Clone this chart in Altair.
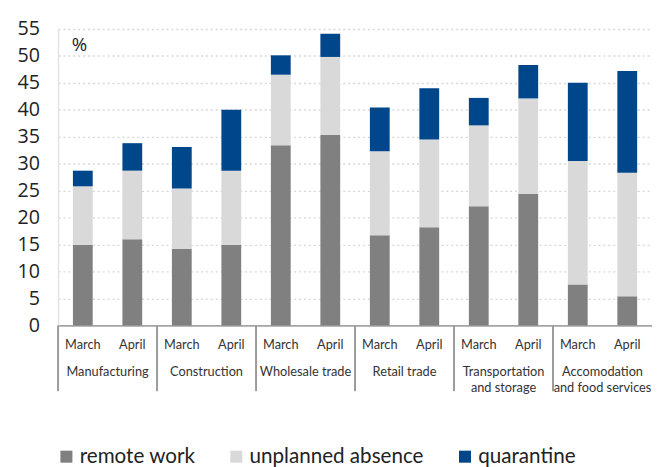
import altair as alt
import pandas as pd

categories = ["Manufacturing", "Construction", "Wholesale trade", "Retail trade",
              "Transportation\nand storage", "Accomodation\nand food services"]
months = ["March", "April"]
series = ["remote work", "unplanned absence", "quarantine"]
remote_work = [14.9, 16.0, 14.2, 14.9, 33.4, 35.3, 16.7, 18.2, 22.1, 24.4, 7.6, 5.4]
unplanned_absence = [10.9, 12.7, 11.2, 13.8, 13.1, 14.5, 15.6, 16.3, 15.0, 17.7, 22.9, 22.9]
quarantine = [2.9, 5.1, 7.7, 11.3, 3.6, 4.3, 8.1, 9.5, 5.1, 6.2, 14.5, 18.9]
colors = ["#808080", "#d9d9d9", "#00468b"]
y_ticks = list(range(0, 56, 5))

bar_ids = [f"{c}|{m}" for c in categories for m in months]
rows = []
for i, b in enumerate(bar_ids):
    for k, (s, vals) in enumerate(zip(series, [remote_work, unplanned_absence, quarantine])):
        rows.append({"bar": b, "series": s, "order": k, "value": vals[i]})
df = pd.DataFrame(rows)
months_df = pd.DataFrame({"bar": bar_ids, "month": [b.split("|")[1] for b in bar_ids]})
groups_df = pd.DataFrame({"bar": [f"{c}|March" for c in categories], "label": categories})
pct_df = pd.DataFrame({"t": ["%"]})

xscale = alt.Scale(domain=bar_ids, paddingInner=0, paddingOuter=0)


def xenc(bp=0.5):
    return alt.X("bar:N", sort=bar_ids, scale=xscale, title="", bandPosition=bp)


bars = alt.Chart(df).mark_bar(width=alt.RelativeBandSize(0.4)).encode(
    x=alt.X("bar:N", sort=bar_ids, scale=xscale, title=""),
    y=alt.Y("value:Q", stack="zero", scale=alt.Scale(domain=[0, 55], nice=False),
            axis=alt.Axis(values=y_ticks, title="", labelFontSize=20, labelFont="Open Sans",
                          labelColor="#222222", ticks=False, labelPadding=19,
                          domainColor="#e3e3e3", domainWidth=1.5,
                          gridColor="#d6d6d6", gridDash=[2, 3], gridWidth=1.5,
                          labelOverlap=False)),
    color=alt.Color("series:N", scale=alt.Scale(domain=series, range=colors),
                    legend=alt.Legend(orient="none", legendX=-2, legendY=425,
                                      direction="horizontal", title="",
                                      symbolType="square", symbolSize=150,
                                      symbolStrokeWidth=0, labelFontSize=21,
                                      labelFont="Lato", labelColor="#222222",
                                      labelLimit=300,
                                      columnPadding=31, labelOffset=3)),
    order=alt.Order("order:Q"),
)

seps = alt.Chart(groups_df).mark_rule(color="#9a9a9a", strokeWidth=2).encode(
    x=xenc(0), y=alt.value(302), y2=alt.value(369)
)

month_text = alt.Chart(months_df).mark_text(
    font="Lato", fontSize=13, color="#333333", baseline="middle"
).encode(x=xenc(0.5), y=alt.value(322), text="month:N")

group_text = alt.Chart(groups_df).mark_text(
    font="Lato", fontSize=13, color="#333333", baseline="top", lineBreak="\n", lineHeight=16
).encode(x=xenc(1), y=alt.value(344), text="label:N")

pct = alt.Chart(pct_df).mark_text(
    font="Open Sans", fontSize=19, color="#222222", align="left", baseline="middle"
).encode(x=alt.value(14), y=alt.value(17), text="t:N")

chart = alt.layer(bars, seps, month_text, group_text, pct).properties(
    width=605, height=302,
    autosize=alt.AutoSizeParams(type="none"),
    padding={"left": 51, "top": 17, "right": 0, "bottom": 142},
).configure_view(strokeWidth=0).configure_axisX(
    labels=False, ticks=False, domainColor="#a6a6a6", domainWidth=2, grid=False
)

chart.save("out.html", embed_options={"renderer": "svg", "actions": False})
